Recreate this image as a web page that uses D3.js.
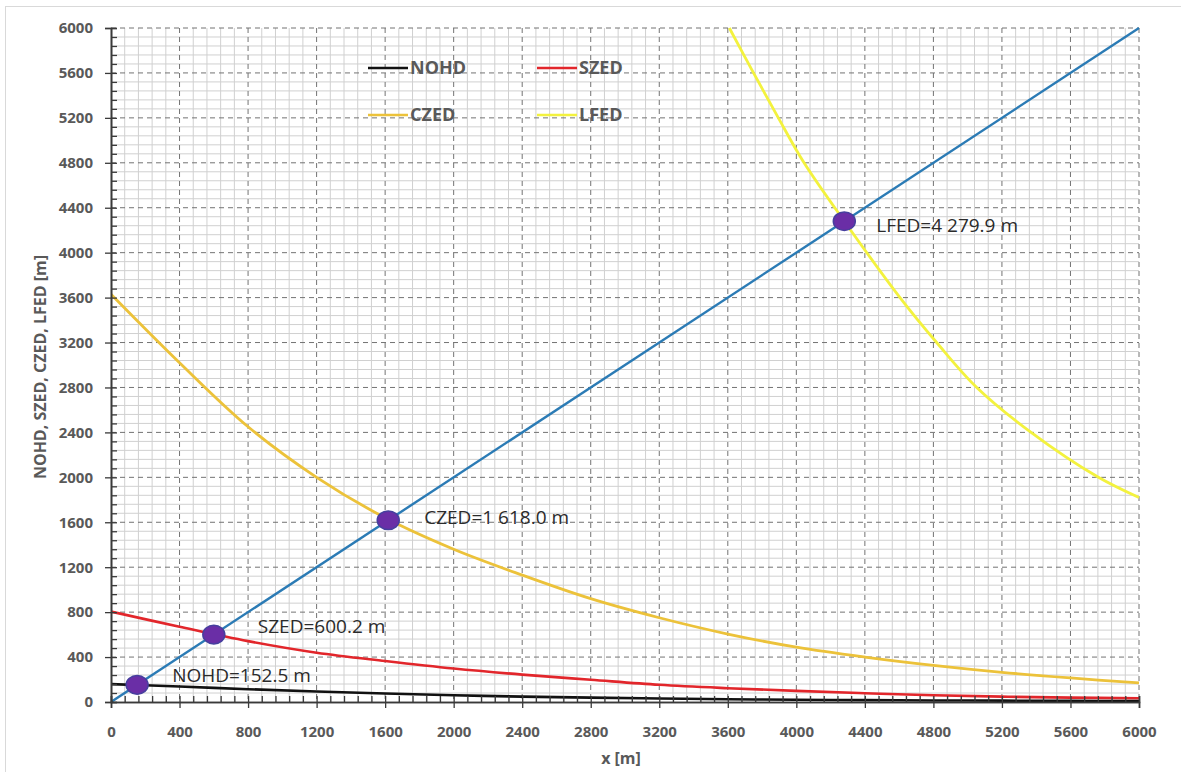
<!DOCTYPE html>
<html>
<head>
<meta charset="utf-8">
<script src="https://cdn.jsdelivr.net/npm/d3@7"></script>
<style>
  body { margin: 0; background: #fff; }
  text { font-family: "Open Sans", sans-serif; }
</style>
</head>
<body>
<div id="chart"></div>
<script>
// ---- data ----
const xTicks = [0, 400, 800, 1200, 1600, 2000, 2400, 2800, 3200, 3600, 4000, 4400, 4800, 5200, 5600, 6000];
const yTicks = [0, 400, 800, 1200, 1600, 2000, 2400, 2800, 3200, 3600, 4000, 4400, 4800, 5200, 5600, 6000];

const xVals = [0, 400, 800, 1200, 1600, 2000, 2400, 2800, 3200, 3600, 4000, 4400, 4800, 5200, 5600, 6000];
const nohd = [159, 138, 114, 93, 75, 60, 48, 39, 31, 25, 20, 17, 14, 12, 10, 8];
const szed = [805, 670, 542, 439, 365, 298, 244, 198, 153, 123, 99, 78, 60, 48, 39, 33];
const czed = [3630, 3020, 2450, 2000, 1640, 1360, 1130, 920, 750, 605, 488, 400, 326, 264, 214, 170];

// LFED read where it crosses the major grid lines
const lfedX = [3609, 3750, 3895, 4045, 4280, 4605, 4819, 5053, 5370, 5763, 6000];
const lfedY = [6000, 5600, 5200, 4800, 4280, 3600, 3200, 2800, 2400, 2000, 1820];

const diagX = [0, 6000];
const diagY = [0, 6000];

const pointNames = ["NOHD", "SZED", "CZED", "LFED"];
const pointVals = [152.5, 600.2, 1618.0, 4279.9];
const pointLabels = ["NOHD=152.5 m", "SZED=600.2 m", "CZED=1 618.0 m", "LFED=4 279.9 m"];

const legendNames = ["NOHD", "SZED", "CZED", "LFED"];

// ---- layout ----
const W = 1181, H = 772;
const margin = { top: 28, right: 42, bottom: 70, left: 111 };
const width = W - margin.left - margin.right,
  height = H - margin.top - margin.bottom;

const colors = { NOHD: "#111111", SZED: "#e2262b", CZED: "#ecc23a", LFED: "#f3f23e", diag: "#2b7bb5" };

const svg = d3.select("#chart").append("svg")
  .attr("width", W)
  .attr("height", H);

// outer chart border
svg.append("rect")
  .attr("x", 5.5).attr("y", 6.5)
  .attr("width", W).attr("height", H)
  .attr("fill", "none")
  .attr("stroke", "#d9d9d9");

const g = svg.append("g")
  .attr("transform", "translate(" + margin.left + "," + margin.top + ")");

const x = d3.scaleLinear().domain([0, 6000]).range([0, width]);
const y = d3.scaleLinear().domain([0, 6000]).range([height, 0]);

// minor grid every 80
const minor = d3.range(0, 6001, 80).filter(v => v % 400 !== 0);
g.append("g").selectAll("line").data(minor).enter().append("line")
  .attr("x1", d => x(d)).attr("x2", d => x(d))
  .attr("y1", 0).attr("y2", height)
  .attr("stroke", "#d0d0d0").attr("stroke-width", 1);
g.append("g").selectAll("line").data(minor).enter().append("line")
  .attr("y1", d => y(d)).attr("y2", d => y(d))
  .attr("x1", 0).attr("x2", width)
  .attr("stroke", "#d0d0d0").attr("stroke-width", 1);

// major dashed grid
g.append("g").selectAll("line").data(xTicks.slice(1)).enter().append("line")
  .attr("x1", d => x(d)).attr("x2", d => x(d))
  .attr("y1", 0).attr("y2", height)
  .attr("stroke", "#737373").attr("stroke-width", 1)
  .attr("stroke-dasharray", "5,4");
g.append("g").selectAll("line").data(yTicks.slice(1)).enter().append("line")
  .attr("y1", d => y(d)).attr("y2", d => y(d))
  .attr("x1", 0).attr("x2", width)
  .attr("stroke", "#737373").attr("stroke-width", 1)
  .attr("stroke-dasharray", "5,4");

// clip for curves
svg.append("defs").append("clipPath").attr("id", "plot-clip")
  .append("rect").attr("x", 0).attr("y", -1).attr("width", width + 2).attr("height", height + 1);

const line = d3.line()
  .x(d => x(d[0]))
  .y(d => y(d[1]))
  .curve(d3.curveCatmullRom.alpha(0.5));

const series = [
  { key: "CZED", pts: d3.zip(xVals, czed), w: 2.8 },
  { key: "LFED", pts: d3.zip(lfedX, lfedY), w: 2.8 },
  { key: "SZED", pts: d3.zip(xVals, szed), w: 2.6 },
  { key: "NOHD", pts: d3.zip(xVals, nohd), w: 2.6 },
  { key: "diag", pts: d3.zip(diagX, diagY), w: 2.4 }
];

const curves = g.append("g").attr("clip-path", "url(#plot-clip)");
curves.selectAll("path").data(series).enter().append("path")
  .attr("d", d => line(d.pts))
  .attr("fill", "none")
  .attr("stroke", d => colors[d.key])
  .attr("stroke-width", d => d.w);

// axes
const yAxis = d3.axisLeft(y).tickValues(yTicks).tickSize(6).tickPadding(12).tickFormat(d3.format("d"));
const yMinor = d3.axisLeft(y).tickValues(minor).tickSize(-6).tickFormat("");
const xAxis = d3.axisBottom(x).tickValues(xTicks).tickSize(6).tickPadding(18).tickFormat(d3.format("d"));
const xMinor = d3.axisBottom(x).tickValues(minor).tickSize(-6).tickFormat("");

function styleAxis(sel) {
  sel.select(".domain").attr("stroke", "#3a3a3a").attr("stroke-width", 1.6);
  sel.selectAll(".tick line").attr("stroke", "#3a3a3a").attr("stroke-width", 1.3);
  sel.selectAll(".tick text")
    .attr("fill", "#595959")
    .style("font-size", "15px")
    .style("font-weight", 700)
    .style("font-family", "'Open Sans', sans-serif");
}

g.append("g").call(yMinor).call(styleAxis);
const ya = g.append("g").call(yAxis).call(styleAxis);
ya.selectAll(".tick line").attr("x1", 6);

g.append("g").attr("transform", "translate(0," + height + ")").call(xMinor).call(styleAxis);
const xa = g.append("g").attr("transform", "translate(0," + height + ")").call(xAxis).call(styleAxis);
xa.selectAll(".tick line").attr("y1", -6);

// axis titles
svg.append("text")
  .text("x [m]")
  .attr("x", margin.left + width / 2 - 4)
  .attr("y", 764)
  .attr("text-anchor", "middle")
  .attr("fill", "#595959")
  .style("font-size", "16px")
  .style("font-weight", 700);

svg.append("text")
  .text("NOHD, SZED, CZED, LFED [m]")
  .attr("transform", "translate(46," + (margin.top + height / 2 + 2) + ") rotate(-90)")
  .attr("text-anchor", "middle")
  .attr("fill", "#595959")
  .style("font-size", "16px")
  .style("font-weight", 700);

// intersection markers and labels
const labelOffsets = [[35, -10], [44, -8], [36, -3], [32, 4]];
const pts = g.append("g");
pts.selectAll("ellipse").data(pointVals).enter().append("ellipse")
  .attr("cx", d => x(d))
  .attr("cy", d => y(d))
  .attr("rx", 11)
  .attr("ry", 9.3)
  .attr("fill", "#6a2ea6")
  .attr("stroke", "#463f9e")
  .attr("stroke-width", 1.5);

pts.selectAll("text").data(pointVals).enter().append("text")
  .text((d, i) => pointLabels[i])
  .attr("x", (d, i) => x(d) + labelOffsets[i][0])
  .attr("y", (d, i) => y(d) + labelOffsets[i][1])
  .attr("dy", "0.36em")
  .attr("fill", "#2b2b2b")
  .style("font-size", "19px");

// legend
const legendPos = [[368, 68], [537, 68], [368, 115], [537, 115]];
const leg = svg.append("g");
legendNames.forEach((name, i) => {
  const [lx, ly] = legendPos[i];
  leg.append("line")
    .attr("x1", lx).attr("x2", lx + 40)
    .attr("y1", ly).attr("y2", ly)
    .attr("stroke", colors[name])
    .attr("stroke-width", 2.5);
  leg.append("text")
    .text(name)
    .attr("x", lx + 42)
    .attr("y", ly)
    .attr("dy", "0.36em")
    .attr("fill", "#595959")
    .style("font-size", "18px")
    .style("font-weight", 700);
});
</script>
</body>
</html>
